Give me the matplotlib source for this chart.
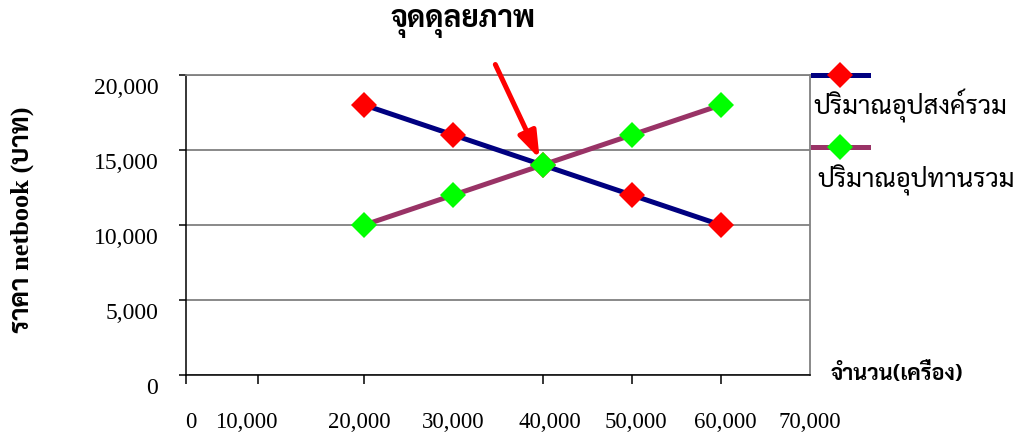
import matplotlib
matplotlib.use("Agg")
import matplotlib.pyplot as plt
from matplotlib.lines import Line2D
from matplotlib.transforms import ScaledTranslation

# Quantity (units) and prices (baht)
quantity = [20000, 30000, 40000, 50000, 60000]
demand_price = [18000, 16000, 14000, 12000, 10000]
supply_price = [10000, 12000, 14000, 16000, 18000]
equilibrium = (40000, 14000)

y_ticks = [0, 5000, 10000, 15000, 20000]
y_tick_labels = ["0", "5,000", "10,000", "15,000", "20,000"]
x_tick_marks = [0, 8100, 20000, 30000, 40000, 50000, 60000, 70000]
x_label_pos = [500, 6800, 19400, 30000, 40800, 50500, 60500, 70000]
x_tick_labels = ["0", "10,000", "20,000", "30,000", "40,000", "50,000", "60,000", "70,000"]

title_text = "จุดดุลยภาพ"
y_label_text = "ราคา netbook (บาท)"
x_label_text = "จำนวน(เครื่อง)"
demand_name = "ปริมาณอุปสงค์รวม"
supply_name = "ปริมาณอุปทานรวม"

THAI = ["Sarabun", "Noto Serif Thai", "DejaVu Sans"]
SERIF = ["Liberation Serif", "Sarabun", "DejaVu Sans"]

NAVY = "#000080"
PLUM = "#993366"
RED = "#FF0000"
GREEN = "#00FF00"
GRID = "#808080"

W, H = 1013, 437
fig = plt.figure(figsize=(W / 100, H / 100), dpi=100)
ax = fig.add_axes([186 / W, 1 - 375 / H, (810 - 186) / W, 300 / H])

line_kw = dict(lw=3.6, marker="D", markersize=13.5, markeredgewidth=0, zorder=3)
ax.plot(quantity, demand_price, color=NAVY, markerfacecolor=RED, **line_kw)
ax.plot(quantity, supply_price, color=PLUM, markerfacecolor=GREEN, **line_kw)

ax.set_xlim(0, 70000)
ax.set_ylim(0, 20000)

# y axis
ax.set_yticks(y_ticks)
ax.set_yticklabels(y_tick_labels, family=SERIF, fontsize=17)
ax.tick_params(axis="y", direction="out", length=5, width=1.1, color="black", pad=15)
shift = ScaledTranslation(0, -11 / 100, fig.dpi_scale_trans)
for lab in ax.get_yticklabels():
    lab.set_transform(lab.get_transform() + shift)
ax.yaxis.grid(True, color=GRID, lw=1.3)
ax.set_axisbelow(True)

# x axis: tick marks as minor ticks, labels as major ticks of zero length
ax.set_xticks(x_tick_marks, minor=True)
ax.set_xticks(x_label_pos)
ax.set_xticklabels(x_tick_labels, family=SERIF, fontsize=16.5)
ax.tick_params(axis="x", which="major", length=0, pad=27)
ax.tick_params(axis="x", which="minor", direction="out", length=6.5, width=1.1, color="black")

for side in ("left", "bottom"):
    ax.spines[side].set_color("black")
    ax.spines[side].set_linewidth(1.1)
for side in ("top", "right"):
    ax.spines[side].set_color(GRID)
    ax.spines[side].set_linewidth(1.3)

# arrow pointing at the equilibrium point
ax.annotate("", xy=equilibrium, xytext=(34700, 20700),
            xycoords="data", textcoords="data", annotation_clip=False,
            arrowprops=dict(arrowstyle="-|>,head_length=0.8,head_width=0.28",
                            mutation_scale=20, color=RED, lw=3.6,
                            shrinkA=0, shrinkB=5))

fig.text(463 / W, 1 - 23 / H, title_text, family=THAI, fontsize=21.5,
         fontweight="bold", ha="center", va="center")
fig.text(22 / W, 1 - 220 / H, y_label_text, family=SERIF, fontsize=19,
         fontweight="bold", rotation=90, ha="center", va="center")
fig.text(897 / W, 1 - 374 / H, x_label_text, family=THAI, fontsize=15.5,
         fontweight="bold", ha="center", va="center")

# legend keys drawn beside the plot
for ypix, col, face, name, tx, ty in ((75, NAVY, RED, demand_name, 813, 106),
                                      (147, PLUM, GREEN, supply_name, 817, 180)):
    fig.add_artist(Line2D([813 / W, 868 / W], [1 - ypix / H] * 2, color=col, lw=3.6,
                          transform=fig.transFigure))
    fig.add_artist(Line2D([840 / W], [1 - ypix / H], marker="D", markersize=13.5,
                          markerfacecolor=face, markeredgewidth=0, color=col,
                          transform=fig.transFigure))
    fig.text(tx / W, 1 - ty / H, name, family=THAI, fontsize=18.5,
             ha="left", va="center")

fig.savefig("out.png", dpi=100)
